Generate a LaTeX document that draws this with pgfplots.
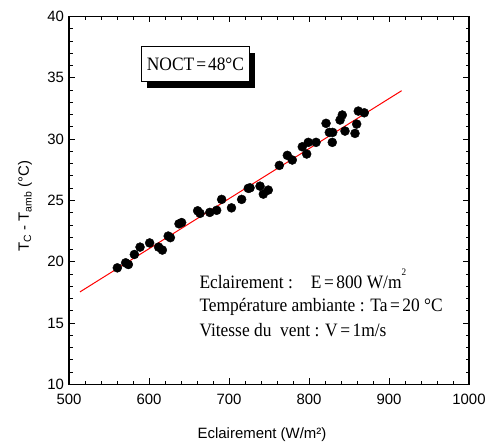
\documentclass[border=0pt]{standalone}
\usepackage{fontspec}
\setmainfont{Liberation Serif}
\setsansfont{Liberation Sans}
\newfontfamily\condserif[FakeStretch=0.92]{Liberation Serif}
\usepackage{pgfplots}
\pgfplotsset{compat=1.18}
\usetikzlibrary{shadows}
\begin{document}
\begin{tikzpicture}[x=1bp,y=1bp]
\begin{axis}[
  name=ax,
  scale only axis,
  width=400bp, height=368bp,
  xmin=500, xmax=1000, ymin=10, ymax=40,
  xtick={500,600,...,1000}, ytick={10,15,...,40},
  minor x tick num=4, minor y tick num=4,
  tick align=inside,
  major tick length=6bp, minor tick length=3.5bp,
  axis line style={line width=1.6bp},
  every tick/.style={black, line width=1bp},
  /pgf/number format/assume math mode=true,
  /pgf/number format/1000 sep={},
  tick label style={font=\sffamily\fontsize{15}{17}\selectfont},
  xticklabel style={yshift=-6bp},
  yticklabel style={xshift=-1.5bp},
  xlabel={Eclairement (W/m²)},
  ylabel={T\textsubscript{C} - T\textsubscript{amb} (°C)},
  xlabel style={font=\sffamily\fontsize{15}{17}\selectfont,
    at={(axis description cs:0.5,0)}, anchor=base, yshift=-54bp, xshift=-7bp},
  ylabel style={font=\sffamily\fontsize{15}{17}\selectfont,
    at={(axis description cs:-0.11,0.485)}, anchor=center, rotate=0},
  clip=false,
]
\addplot[only marks, mark=*, mark size=4.5bp, black] coordinates {
(560.4,19.51) (570.8,19.92) (574.2,19.78) (581.7,20.6) (588.8,21.2)
(600.8,21.54) (612,21.2) (616.7,20.96) (624,22.1) (626.7,21.97)
(637.5,23.1) (640.8,23.2) (660.8,24.16) (663.8,23.95) (676,24.03)
(684.6,24.2) (690.8,25.09) (703.1,24.4) (715.8,25.09) (724.1,25.99)
(726.3,26.03) (738.8,26.17) (742.9,25.52) (749.1,25.85) (762.9,27.86)
(772.9,28.68) (779.1,28.3) (791.6,29.38) (797.1,28.79) (799.1,29.74)
(808.8,29.74) (821.3,31.29) (825.4,30.55) (829.6,30.55) (829.1,29.74)
(838.8,31.56) (841.6,31.97) (845,30.66) (857.5,30.47) (859.6,31.23)
(861.6,32.29) (869.1,32.15)
};
\addplot[red, line width=1bp] coordinates {(513.75,17.55) (915.8,33.95)};
\node[draw=black, line width=0.8bp, fill=white, minimum width=107.6bp, minimum height=35bp,
  drop shadow={shadow xshift=5.5bp, shadow yshift=-6.5bp, fill=black, opacity=1}]
  at (axis cs:658.1,36.11) {\condserif\fontsize{19}{21}\selectfont NOCT\kern2bp=\kern2bp48°C};
\node[anchor=base west, inner sep=0pt] at (axis cs:662.9,17.83)
  {\condserif\fontsize{19}{21}\selectfont Eclairement :\hspace{18bp}E\kern2.5bp=\kern2.5bp800 W/m\raisebox{12.5bp}{\fontsize{10}{11}\selectfont 2}};
\node[anchor=base west, inner sep=0pt] at (axis cs:662.9,15.92)
  {\condserif\fontsize{19}{21}\selectfont Température ambiante : Ta\kern2.5bp=\kern2.5bp20 °C};
\node[anchor=base west, inner sep=0pt] at (axis cs:662.9,13.94)
  {\condserif\fontsize{19}{21}\selectfont Vitesse du\ \ vent : V\kern2.5bp=\kern2.5bp1m/s};
\end{axis}
\pgfresetboundingbox
\path ([shift={(-69bp,-60.7bp)}]ax.south west) rectangle ([shift={(16bp,16.5bp)}]ax.north east);
\end{tikzpicture}
\end{document}
